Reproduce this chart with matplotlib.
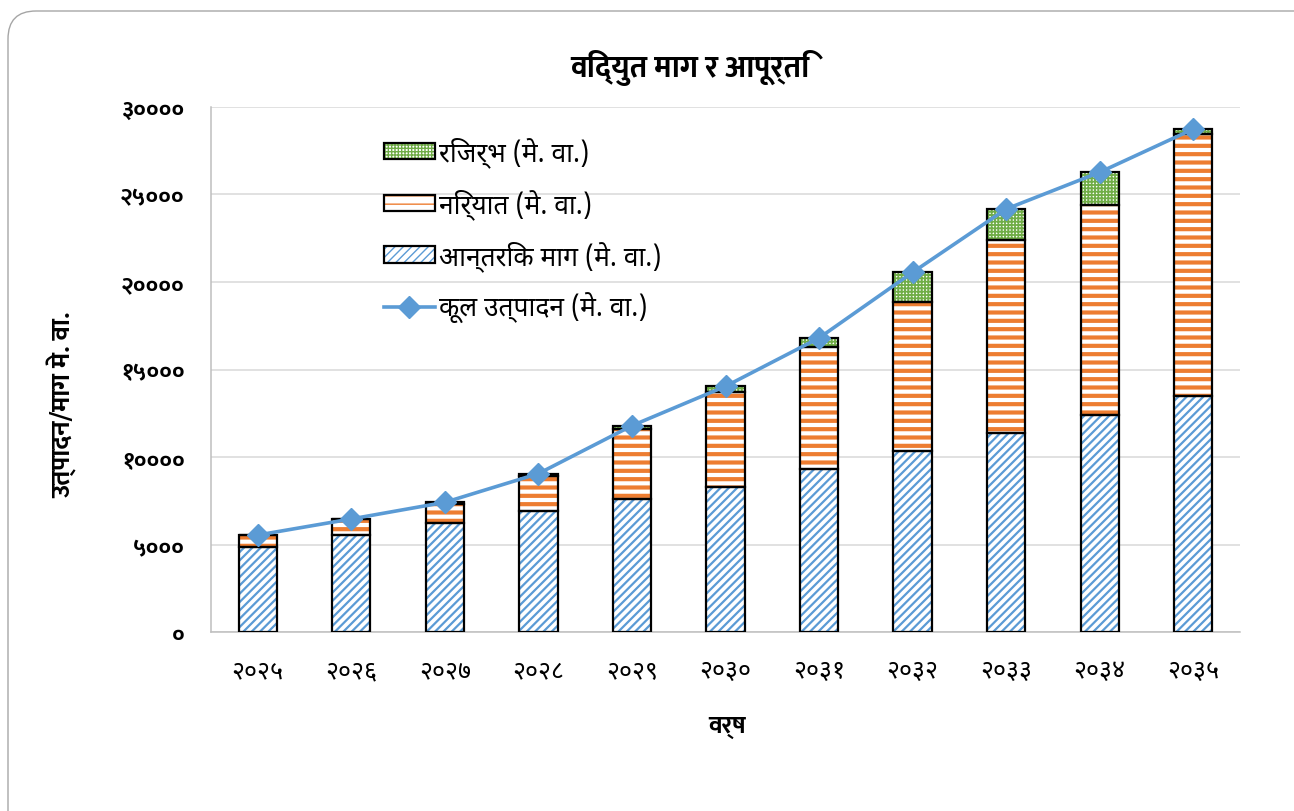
import matplotlib
matplotlib.use("Agg")
import matplotlib.pyplot as plt
from matplotlib.patches import Patch, FancyBboxPatch
from matplotlib.lines import Line2D
from matplotlib.legend_handler import HandlerTuple
from matplotlib.transforms import IdentityTransform
import numpy as np

plt.rcParams['font.family'] = ['Noto Sans Devanagari', 'DejaVu Sans']
BOLD = ['Mukta', 'Noto Sans Devanagari', 'DejaVu Sans']

# वर्ष अनुसार माग र आपूर्ति (मे. वा.)
barsa = ['२०२५', '२०२६', '२०२७', '२०२८', '२०२९', '२०३०', '२०३१', '२०३२', '२०३३', '२०३४', '२०३५']
aantarik_maag = [4880, 5560, 6230, 6900, 7580, 8270, 9300, 10330, 11370, 12420, 13470]
niryat = [660, 900, 1100, 2030, 4020, 5430, 6970, 8510, 11030, 12000, 15000]
reserve = [0, 0, 80, 120, 190, 340, 530, 1710, 1770, 1850, 270]
kul_utpadan = [5540, 6460, 7410, 9050, 11790, 14040, 16800, 20550, 24170, 26270, 28740]

y_ticks = [0, 5000, 10000, 15000, 20000, 25000, 30000]
y_labels = ['०', '५०००', '१००००', '१५०००', '२००००', '२५०००', '३००००']

nilo = '#5B9BD5'
suntala = '#ED7D31'
hariyo = '#70AD47'

fig = plt.figure(figsize=(12.94, 8.12), dpi=100)
ax = fig.add_axes([211 / 1294, 1 - 633 / 812, 1029 / 1294, 525 / 812])

x = np.arange(len(barsa))
w = 0.41
base2 = np.array(aantarik_maag) + np.array(niryat)

# hatch रंग edgecolor बाट आउँछ, त्यसैले पहिले hatch अनि छुट्टै कालो किनारा
with plt.rc_context({'hatch.linewidth': 1.6}):
    ax.bar(x, aantarik_maag, w, color='white', edgecolor=nilo, hatch='////', linewidth=0, zorder=2)
with plt.rc_context({'hatch.linewidth': 3.0}):
    ax.bar(x, niryat, w, bottom=aantarik_maag, color='white', edgecolor=suntala, hatch='--', linewidth=0, zorder=2)
with plt.rc_context({'hatch.linewidth': 1.3}):
    ax.bar(x, reserve, w, bottom=base2, color='white', edgecolor=hariyo, hatch='+++++', linewidth=0, zorder=2)
ax.bar(x, aantarik_maag, w, fill=False, edgecolor='black', linewidth=1.6, zorder=3)
ax.bar(x, niryat, w, bottom=aantarik_maag, fill=False, edgecolor='black', linewidth=1.6, zorder=3)
ax.bar(x, reserve, w, bottom=base2, fill=False, edgecolor='black', linewidth=1.6, zorder=3)

ax.plot(x, kul_utpadan, color=nilo, linewidth=2.6, marker='D', markersize=11.5, zorder=4)

ax.set_xlim(-0.5, len(barsa) - 0.5)
ax.set_ylim(0, 30000)
ax.set_yticks(y_ticks)
ax.set_yticklabels(y_labels, fontsize=17, fontweight='bold', family=BOLD)
ax.set_xticks(x)
ax.set_xticklabels(barsa, fontsize=18)
ax.tick_params(axis='y', length=0, pad=19)
ax.tick_params(axis='x', length=0, pad=19)
ax.grid(axis='y', color='#D9D9D9', linewidth=1.1, zorder=0)
ax.set_axisbelow(True)
for s in ['top', 'right']:
    ax.spines[s].set_visible(False)
for s in ['left', 'bottom']:
    ax.spines[s].set_color('#BFBFBF')
    ax.spines[s].set_linewidth(1.1)

fig.text(690 / 1294, 1 - 68 / 812, 'विद्युत माग र आपूर्ति', ha='center', va='center',
         fontsize=22, fontweight='bold', family=BOLD)
fig.text(727 / 1294, 1 - 727 / 812, 'वर्ष', ha='center', va='center', fontsize=18,
         fontweight='bold', family=BOLD)
fig.text(62 / 1294, 1 - 405 / 812, 'उत्पादन/माग मे. वा.', ha='center', va='center',
         rotation=90, fontsize=19, fontweight='bold', family=BOLD)

def hatch_handle(col, h, lw):
    with plt.rc_context({'hatch.linewidth': lw}):
        p = Patch(facecolor='white', edgecolor=col, hatch=h, linewidth=0)
    return (p, Patch(fill=False, edgecolor='black', linewidth=1.6))

handles = [hatch_handle(hariyo, '+++++', 1.3), hatch_handle(suntala, '--', 3.0),
           hatch_handle(nilo, '////', 1.6),
           Line2D([], [], color=nilo, linewidth=2.6, marker='D', markersize=11.5)]
labels = ['रिजर्भ (मे. वा.)', 'निर्यात (मे. वा.)', 'आन्तरिक माग (मे. वा.)', 'कूल उत्पादन (मे. वा.)']
ax.legend(handles, labels, handler_map={tuple: HandlerTuple(ndivide=1)},
          loc='upper left', bbox_to_anchor=(373 / 1294, 1 - 127 / 812), bbox_transform=fig.transFigure,
          frameon=False, fontsize=19, handlelength=1.95, handleheight=0.6, handletextpad=0.15,
          labelspacing=0.8, borderaxespad=0)

# चार्ट क्षेत्रको गोलाकार किनारा
fig.add_artist(FancyBboxPatch((8, -60), 1400, 812 - 12 + 60, boxstyle='round,pad=0,rounding_size=28',
                              transform=IdentityTransform(), facecolor='none', edgecolor='#A6A6A6',
                              linewidth=1.0))

fig.savefig('out.png', dpi=100)
